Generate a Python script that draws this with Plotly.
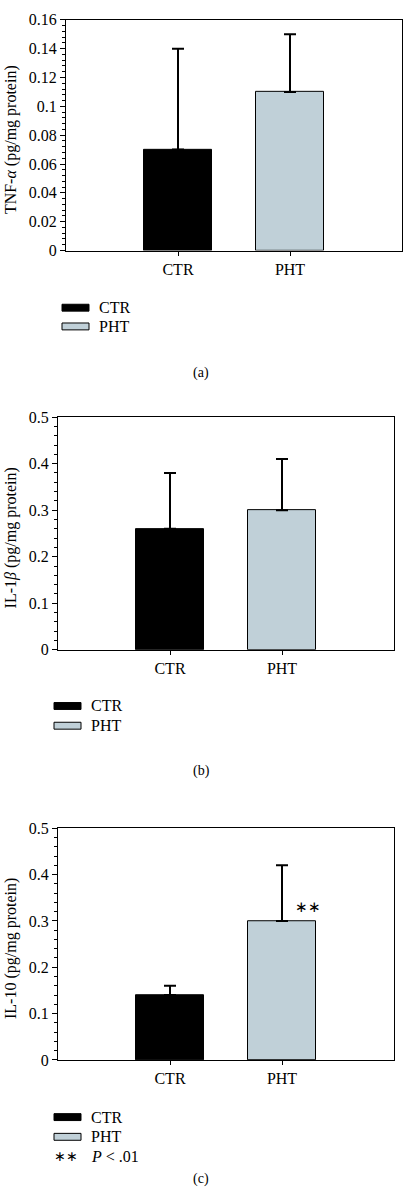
import plotly.graph_objects as go

categories = ["CTR", "PHT"]
x_pos = [1, 2]

tnf_values = [0.07, 0.11]
tnf_errors = [0.07, 0.04]
il1b_values = [0.26, 0.30]
il1b_errors = [0.12, 0.11]
il10_values = [0.14, 0.30]
il10_errors = [0.02, 0.12]

colors = ["#000000", "#c0d0d8"]
W, H = 403, 1203
FONT = "Liberation Serif"
FS = 16

panels = [
    dict(values=tnf_values, errors=tnf_errors, ymax=0.16, dtick=0.02, minor=0.004,
         title="TNF-<i>α</i> (pg/mg protein)", box=(66, 402, 12, 246),
         leg_y=[304, 323], leg_x=62, label="(a)", label_y=370),
    dict(values=il1b_values, errors=il1b_errors, ymax=0.5, dtick=0.1, minor=0.02,
         title="IL-1<i>β</i> (pg/mg protein)", box=(58, 394, 415, 651),
         leg_y=[708, 728], leg_x=54, label="(b)", label_y=774),
    dict(values=il10_values, errors=il10_errors, ymax=0.5, dtick=0.1, minor=0.02,
         title="IL-10 (pg/mg protein)", box=(58, 394, 832, 1067),
         leg_y=[1125, 1145, 1165], leg_x=54, label="(c)", label_y=1188),
]

fig = go.Figure()
shapes = []
annotations = []

def px(x):
    return x / W

def py(y):
    return 1 - y / H

for i, p in enumerate(panels):
    n = "" if i == 0 else str(i + 1)
    xa = "x" + n
    ya = "y" + n
    for j in range(2):
        fig.add_trace(go.Bar(
            x=[x_pos[j]], y=[p["values"][j]], width=0.6,
            marker=dict(color=colors[j], line=dict(color="black", width=1)),
            error_y=dict(type="data", symmetric=False, array=[p["errors"][j]],
                         arrayminus=[0], color="black", thickness=2, width=6),
            showlegend=False, xaxis=xa, yaxis=ya,
        ))
    x0, x1, y0, y1 = p["box"]
    tickvals = []
    ticktext = []
    k = 0
    while k * p["dtick"] <= p["ymax"] + 1e-9:
        v = round(k * p["dtick"], 4)
        tickvals.append(v)
        ticktext.append("%g" % v)
        k += 1
    fig.update_layout(**{
        ("xaxis" + n): dict(
            domain=[px(x0), min(1, px(x1))], range=[0, 3], tickvals=x_pos, ticktext=categories,
            showline=True, linecolor="black", linewidth=1, mirror=True,
            ticks="outside", ticklen=4, tickcolor="black", showgrid=False, zeroline=False,
            tickfont=dict(family=FONT, size=FS, color="black"), anchor=ya, fixedrange=True,
        ),
        ("yaxis" + n): dict(
            domain=[py(y1), py(y0)], range=[0, p["ymax"]], tickvals=tickvals, ticktext=ticktext,
            showline=True, linecolor="black", linewidth=1, mirror=True,
            ticks="outside", ticklen=5, tickcolor="black", showgrid=False, zeroline=False,
            minor=dict(dtick=p["minor"], ticks="outside", ticklen=3, tickcolor="black", showgrid=False),
            tickfont=dict(family=FONT, size=FS, color="black"), anchor=xa, fixedrange=True,
        ),
    })
    annotations.append(dict(xref="paper", yref="paper", x=px(11), y=py((y0 + y1) / 2 + 5),
                            text=p["title"], textangle=-90, showarrow=False,
                            xanchor="center", yanchor="middle",
                            font=dict(family=FONT, size=FS, color="black")))
    for j, ly in enumerate(p["leg_y"][:2]):
        shapes.append(dict(type="rect", xref="paper", yref="paper",
                           x0=px(p["leg_x"]), x1=px(p["leg_x"] + 27),
                           y0=py(ly + 3.5), y1=py(ly - 3.5),
                           fillcolor=colors[j], line=dict(color="black", width=1)))
        annotations.append(dict(xref="paper", yref="paper", x=px(p["leg_x"] + 35), y=py(ly),
                                text=categories[j], showarrow=False, xanchor="left", yanchor="middle",
                                font=dict(family=FONT, size=FS, color="black")))
    if len(p["leg_y"]) > 2:
        ly = p["leg_y"][2]
        annotations.append(dict(xref="paper", yref="paper", x=px(p["leg_x"] - 2), y=py(ly),
                                text="∗∗", showarrow=False, xanchor="left", yanchor="middle",
                                font=dict(family=FONT, size=14, color="black")))
        annotations.append(dict(xref="paper", yref="paper", x=px(p["leg_x"] + 35), y=py(ly),
                                text="<i>P</i> < .01", showarrow=False, xanchor="left", yanchor="middle",
                                font=dict(family=FONT, size=FS, color="black")))
    annotations.append(dict(xref="paper", yref="paper", x=px(201), y=py(p["label_y"]),
                            text=p["label"], showarrow=False, xanchor="center", yanchor="middle",
                            font=dict(family=FONT, size=14, color="black")))

annotations.append(dict(xref="x3", yref="y3", x=2.1, y=0.33, text="∗∗", showarrow=False,
                        xanchor="left", yanchor="middle",
                        font=dict(family=FONT, size=15, color="black")))

fig.update_layout(
    width=W, height=H, margin=dict(l=0, r=0, t=0, b=0),
    paper_bgcolor="white", plot_bgcolor="white",
    shapes=shapes, annotations=annotations, showlegend=False,
    bargap=0,
)

fig.write_html("out.html", config={"displayModeBar": False},
               post_script="document.body.style.margin='0px';")
